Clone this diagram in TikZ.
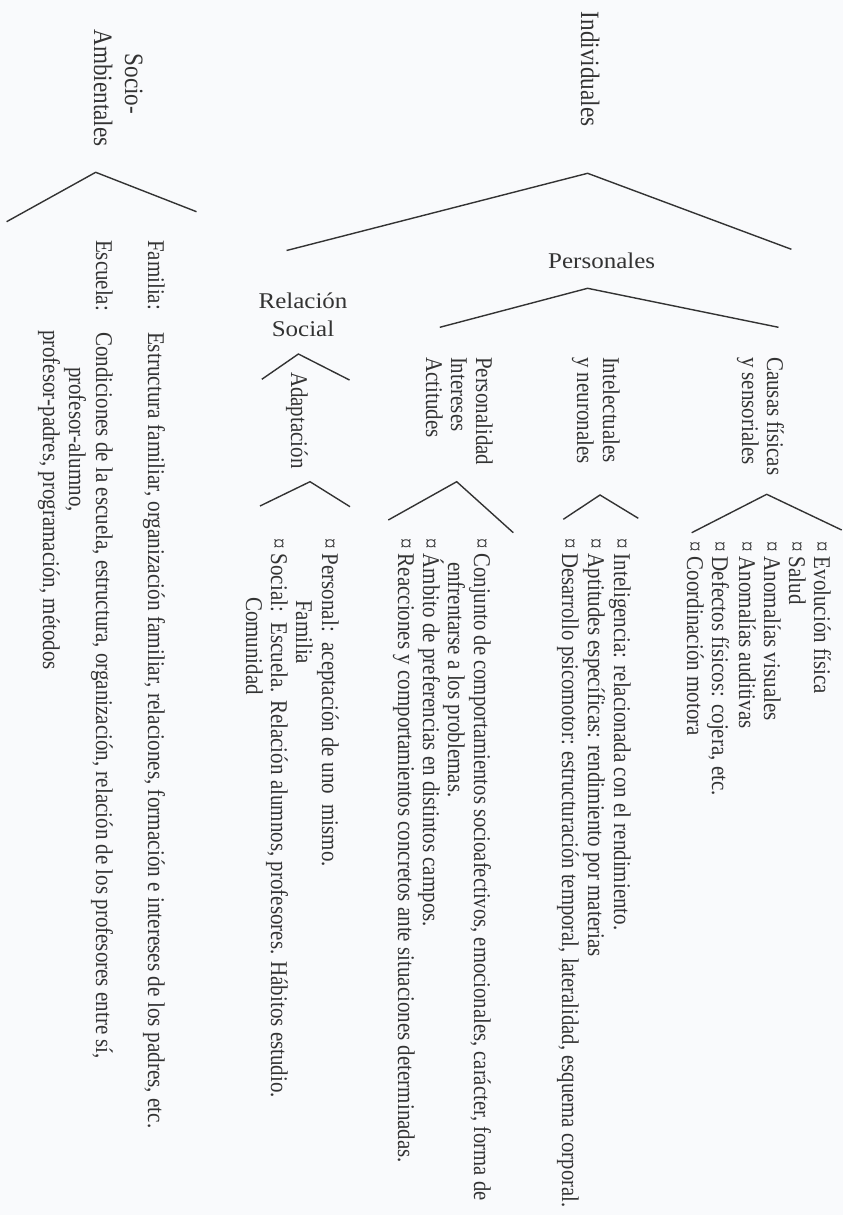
\documentclass[tikz,border=0pt]{standalone}
\usepackage{fontspec}
\setmainfont{Liberation Serif}
\definecolor{ink}{HTML}{333333}
\definecolor{paper}{HTML}{F9FAFC}
\newcommand{\sq}[1]{\scalebox{0.875}[1]{#1}}
\newcommand{\sqn}[1]{\scalebox{0.862}[1]{#1}}
\newcommand{\sh}[1]{\scalebox{1}[0.9]{#1}}
\tikzset{
 rot/.style={rotate=-90, anchor=base west, inner sep=0pt, outer sep=0pt, text=ink, font=\fontsize{24}{28}\selectfont},
 rotc/.style={rot, anchor=base},
 head/.style={rot, font=\fontsize{26.5}{30}\selectfont},
 headc/.style={head, anchor=base},
 hor/.style={anchor=base, inner sep=0pt, text=ink, font=\fontsize{25}{28}\selectfont},
 wedge/.style={draw=ink, line width=1.4pt, line join=miter}
}
\begin{document}
\begin{tikzpicture}[x=1pt,y=-1pt]
\fill[paper] (0,0) rectangle (843,1215);
\useasboundingbox (0,0) rectangle (843,1215);

% headings
\node[head] (ind) at (581,12) {\sq{Individuales}};
\node[headc] (soc1) at (125,84) {\sq{Socio-}};
\node[headc] (soc2) at (94,88) {\sq{Ambientales}};
\node[hor] (pers) at (601.7,268) {\sh{Personales}};
\node[hor] (rel1) at (303,308) {\sh{Relación}};
\node[hor] (rel2) at (303,336) {\sh{Social}};

% sub headings
\node[rot] (caus1) at (767,357) {\sq{Causas físicas}};
\node[rot] (caus2) at (742,357) {\sq{y sensoriales}};
\node[rot] (int1) at (603,357) {\sq{Intelectuales}};
\node[rot] (int2) at (577,357) {\sq{y neuronales}};
\node[rot] (per1) at (476,357) {\sq{Personalidad}};
\node[rot] (per2) at (451,357) {\sq{Intereses}};
\node[rot] (per3) at (426,357) {\sq{Actitudes}};
\node[rot] (adap) at (291,372) {\sq{Adaptación}};

% lists
\node[rot] (c1) at (814,541) {\sq{¤ Evolución física}};
\node[rot] (c2) at (789,541) {\sq{¤ Salud}};
\node[rot] (c3) at (764,541) {\sq{¤ Anomalías visuales}};
\node[rot] (c4) at (739,541) {\sq{¤ Anomalías auditivas}};
\node[rot] (c5) at (712,541) {\sq{¤ Defectos físicos: cojera, etc.}};
\node[rot] (c6) at (687,541) {\sq{¤ Coordinación motora}};

\node[rot] (i1) at (614,538) {\sq{¤ Inteligencia: relacionada con el rendimiento.}};
\node[rot] (i2) at (588,538) {\sq{¤ Aptitudes específicas: rendimiento por materias}};
\node[rot] (i3) at (562,538) {\sqn{¤ Desarrollo psicomotor: estructuración temporal, lateralidad, esquema corporal.}};

\node[rot] (p1) at (474,538) {\sqn{¤ Conjunto de comportamientos socioafectivos, emocionales, carácter, forma de}};
\node[rot] (p1b) at (448,562) {\sq{enfrentarse a los problemas.}};
\node[rot] (p2) at (423,538) {\sq{¤ Ámbito de preferencias en distintos campos.}};
\node[rot] (p3) at (398,538) {\sq{¤ Reacciones y comportamientos concretos ante situaciones determinadas.}};

\node[rot] (a1) at (322,538) {\sq{¤ Personal:\ \ aceptación de uno\ \ mismo.}};
\node[rot] (a1b) at (296,600) {\sq{Familia}};
\node[rot] (a2) at (271,538) {\sq{¤ Social:\ \ Escuela. Relación alumnos, profesores. Hábitos estudio.}};
\node[rot] (a2b) at (246,597) {\sq{Comunidad}};

\node[rot] (f0) at (148,240) {\sq{Familia:}};
\node[rot] (f1) at (148,332) {\scalebox{0.885}[1]{Estructura familiar, organización familiar, relaciones, formación e intereses de los padres, etc.}};
\node[rot] (e0) at (96,240) {\sq{Escuela:}};
\node[rot] (e1) at (96,332) {\sq{Condiciones de la escuela, estructura, organización, relación de los profesores entre sí,}};
\node[rot] (e2) at (69,367) {\sq{profesor-alumno,}};
\node[rot] (e3) at (43,330) {\sq{profesor-padres, programación, métodos}};

% wedges
\coordinate (w1l) at (286.6,250.5); \coordinate (w1t) at (587.6,173.3); \coordinate (w1r) at (791.4,249.3);
\coordinate (w2l) at (6.6,221.7);   \coordinate (w2t) at (95.7,172.3);  \coordinate (w2r) at (196.5,211.7);
\coordinate (w3l) at (439.8,327.3); \coordinate (w3t) at (587.6,288.3); \coordinate (w3r) at (778.5,327.3);
\coordinate (w4l) at (261.8,379.3); \coordinate (w4t) at (298.4,354);   \coordinate (w4r) at (349.5,380);
\coordinate (w5l) at (691.7,532.7); \coordinate (w5t) at (766.7,494.3); \coordinate (w5r) at (841.7,530);
\coordinate (w6l) at (563.3,519.3); \coordinate (w6t) at (600,495);     \coordinate (w6r) at (638.3,518.3);
\coordinate (w7l) at (388.3,520);   \coordinate (w7t) at (456.7,481.7); \coordinate (w7r) at (513.3,532.7);
\coordinate (w8l) at (260,506);     \coordinate (w8t) at (310,481.7);   \coordinate (w8r) at (350,506.7);
\foreach \w in {w1,w2,w3,w4,w5,w6,w7,w8}
  \draw[wedge] (\w l) -- (\w t) -- (\w r);
\end{tikzpicture}
\end{document}
